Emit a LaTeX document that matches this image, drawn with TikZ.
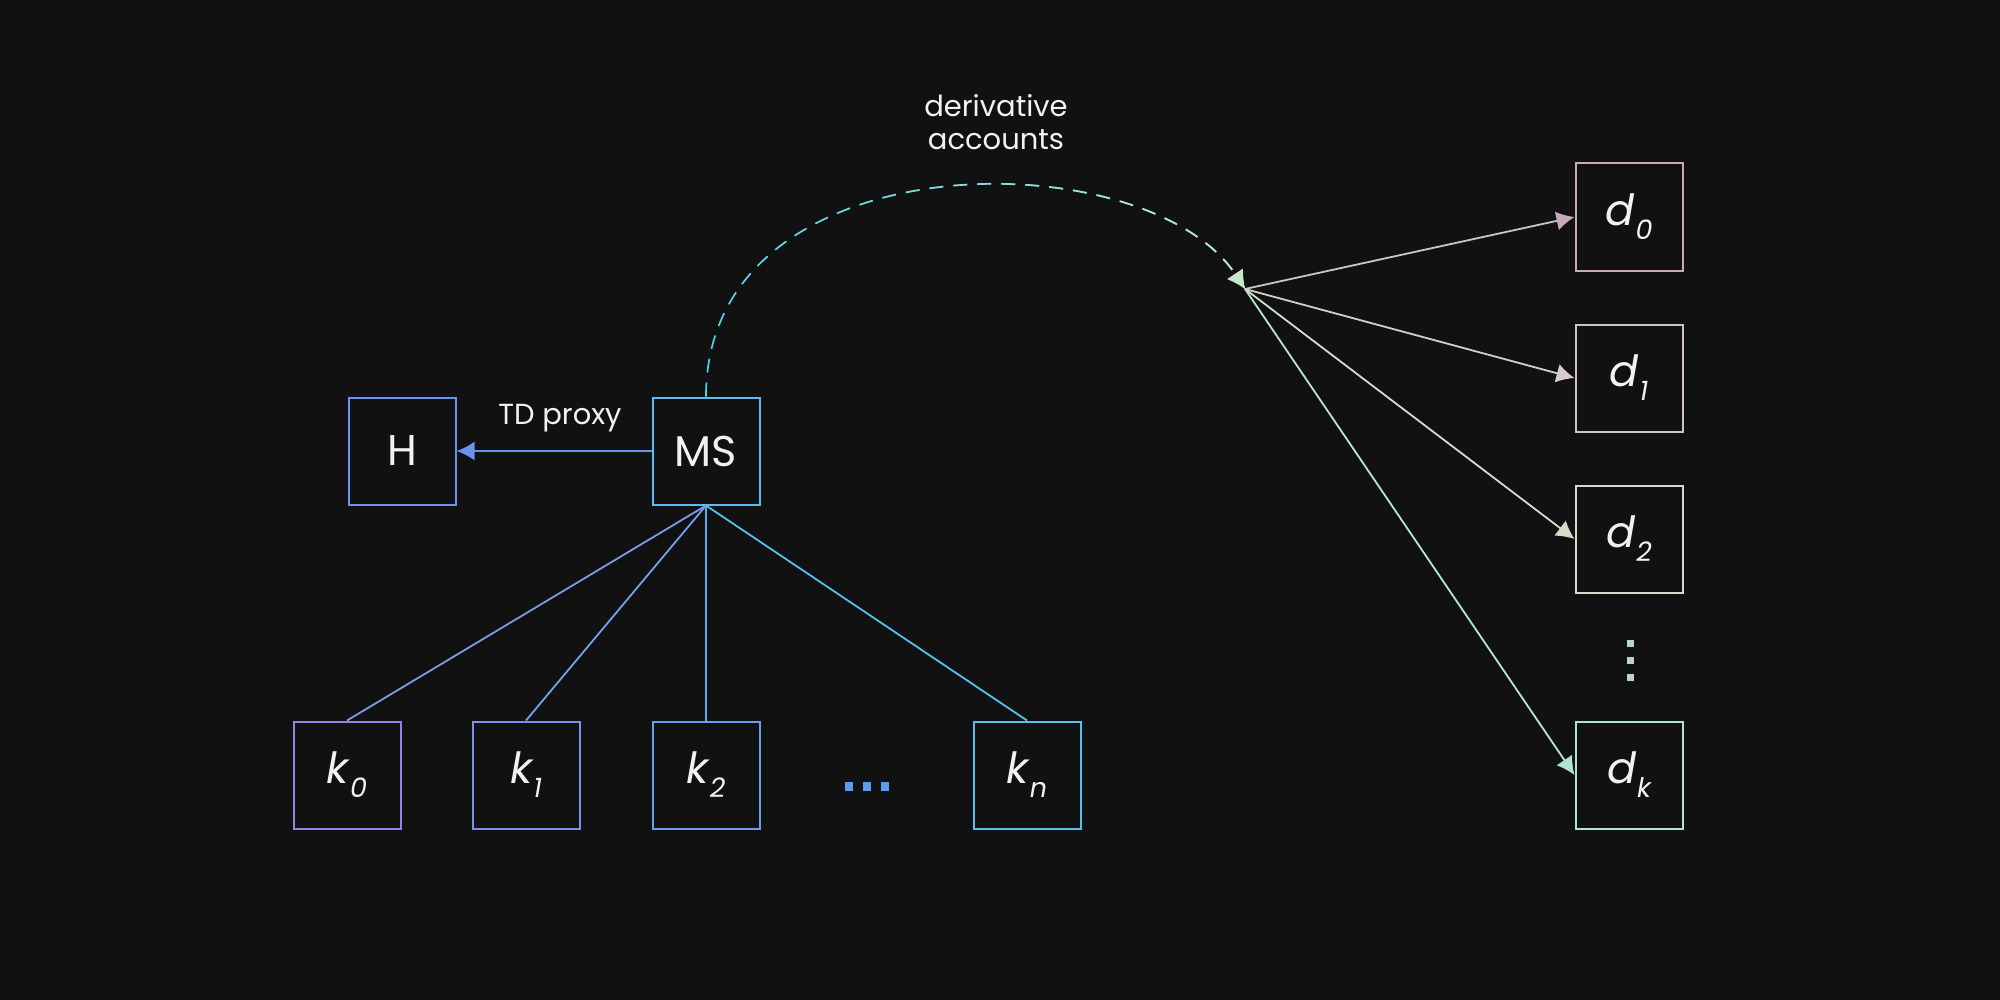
\documentclass[tikz,border=0pt]{standalone}
\usepackage{fontspec}
\setmainfont{Poppins}
\usepackage{tikz}
\usetikzlibrary{arrows.meta,fadings}

\definecolor{bgcol}{HTML}{111111}
\definecolor{txtcol}{HTML}{F2F2F2}
\definecolor{hcol}{HTML}{6A92F0}
\definecolor{mscol}{HTML}{5ABCF0}
\definecolor{kzero}{HTML}{9284E4}
\definecolor{kone}{HTML}{7E90EE}
\definecolor{ktwo}{HTML}{6A9CF0}
\definecolor{kn}{HTML}{55C0F0}
\definecolor{dzero}{HTML}{C8A8BA}
\definecolor{done}{HTML}{D2BEC6}
\definecolor{dtwo}{HTML}{D2DCC8}
\definecolor{dk}{HTML}{ACE4D8}
\definecolor{arcstart}{HTML}{4FD2EC}
\definecolor{arcend}{HTML}{C8E6CC}
\definecolor{dotcol}{HTML}{5A9CF2}
\definecolor{vdotcol}{HTML}{B8D8C0}

\tikzfading[name=fadeinright, left color=transparent!100, right color=transparent!0]

\newcommand{\acct}[2]{{\itshape #1\kern0.5pt\raisebox{-7pt}{\fontsize{13.5}{13.5}\selectfont #2}}}

\begin{document}
\begin{tikzpicture}[x=0.5pt,y=0.5pt,yscale=-1,
  box/.style={draw, line width=1pt, minimum size=53.5pt, inner sep=0pt, text=txtcol, font=\fontsize{21.5}{24}\selectfont},
  lbl/.style={text=txtcol, inner sep=0pt, font=\fontsize{14.5}{16.6}\selectfont},
  tip/.style={-{Latex[length=9pt,width=9.5pt,color=#1]}},
  fan/.style={line width=0.9pt},
  arc/.style={line width=0.85pt, dash pattern={on 7pt off 5pt}}]
%set diagram size 2000 x 1000
\fill[bgcol] (0,0) rectangle (2000,1000);

%Boxes left
\node[box, draw=hcol] (h) at (402,451) {H};
\node[box, draw=mscol] (ms) at (706,451) {MS};
\node[box, draw=kzero] (k0) at (347,775) {\acct{k}{0}};
\node[box, draw=kone] (k1) at (526,775) {\acct{k}{1}};
\node[box, draw=ktwo] (k2) at (706,775) {\acct{k}{2}};
\node[box, draw=kn] (kn) at (1027,775) {\acct{k}{n}};
%Boxes right
\node[box, draw=dzero] (d0) at (1629,217) {\acct{d}{0}};
\node[box, draw=done] (d1) at (1629,378) {\acct{d}{1}};
\node[box, draw=dtwo] (d2) at (1629,539) {\acct{d}{2}};
\node[box, draw=dk] (dk) at (1629,775) {\acct{d}{k}};
\coordinate (hub) at (1245,289);

%Dots
\foreach \x in {849,867,885}
  \fill[dotcol] (\x-4,782) rectangle (\x+4,791);
\foreach \y in {643,660,677}
  \fill[vdotcol] (1626.5,\y-3.5) rectangle (1633.5,\y+3.5);

%Straight Lines
\draw[line width=1pt, draw=hcol, tip=hcol] (ms.west) -- (h.east);
\draw[fan, draw=kzero!60!mscol] (ms.south) -- (k0.north);
\draw[fan, draw=kone!60!mscol] (ms.south) -- (k1.north);
\draw[fan, draw=ktwo!70!mscol] (ms.south) -- (k2.north);
\draw[fan, draw=kn] (ms.south) -- (kn.north);

%Dashed arc
\draw[arc, draw=arcstart, tip=arcend] (ms.north) .. controls (706,138) and (1145,138) .. (hub);
\draw[arc, draw=arcend, path fading=fadeinright, tip=arcend] (ms.north) .. controls (706,138) and (1145,138) .. (hub);

%Fan out
\draw[fan, draw=dzero!50!arcend, tip=dzero] (hub) -- (d0.west);
\draw[fan, draw=done!50!arcend, tip=done!80!white] (hub) -- (d1.west);
\draw[fan, draw=dtwo!60!arcend, tip=dtwo] (hub) -- (d2.west);
\draw[fan, draw=dk!60!arcend, tip=dk] (hub) -- (dk.west);

% Text Node
\node[lbl] (tdproxy) at (560,418) {TD proxy};
% Text Node
\node[lbl, align=center] (derivtxt) at (996,122) {derivative\\accounts};
\end{tikzpicture}
\end{document}
